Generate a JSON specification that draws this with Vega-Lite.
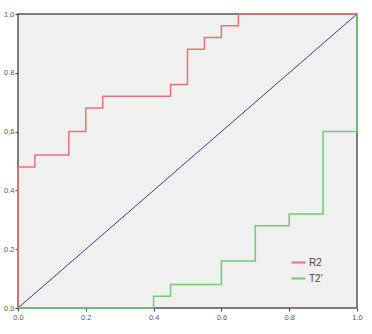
{
  "$schema": "https://vega.github.io/schema/vega-lite/v6.json",
  "width": 339,
  "height": 294,
  "autosize": {"type": "none"},
  "padding": {"left": 18, "top": 14, "right": 15, "bottom": 26},
  "background": "white",
  "config": {
    "view": {"fill": "#f0f0f0", "stroke": "#555555", "strokeWidth": 1.5},
    "font": "Liberation Sans"
  },
  "datasets": {
    "roc": [
      {"series": "R2", "i": 0, "fpr": 0, "tpr": 0},
      {"series": "R2", "i": 1, "fpr": 0, "tpr": 0.48},
      {"series": "R2", "i": 2, "fpr": 0.05, "tpr": 0.48},
      {"series": "R2", "i": 3, "fpr": 0.05, "tpr": 0.52},
      {"series": "R2", "i": 4, "fpr": 0.15, "tpr": 0.52},
      {"series": "R2", "i": 5, "fpr": 0.15, "tpr": 0.60},
      {"series": "R2", "i": 6, "fpr": 0.20, "tpr": 0.60},
      {"series": "R2", "i": 7, "fpr": 0.20, "tpr": 0.68},
      {"series": "R2", "i": 8, "fpr": 0.25, "tpr": 0.68},
      {"series": "R2", "i": 9, "fpr": 0.25, "tpr": 0.72},
      {"series": "R2", "i": 10, "fpr": 0.45, "tpr": 0.72},
      {"series": "R2", "i": 11, "fpr": 0.45, "tpr": 0.76},
      {"series": "R2", "i": 12, "fpr": 0.50, "tpr": 0.76},
      {"series": "R2", "i": 13, "fpr": 0.50, "tpr": 0.88},
      {"series": "R2", "i": 14, "fpr": 0.55, "tpr": 0.88},
      {"series": "R2", "i": 15, "fpr": 0.55, "tpr": 0.92},
      {"series": "R2", "i": 16, "fpr": 0.60, "tpr": 0.92},
      {"series": "R2", "i": 17, "fpr": 0.60, "tpr": 0.96},
      {"series": "R2", "i": 18, "fpr": 0.65, "tpr": 0.96},
      {"series": "R2", "i": 19, "fpr": 0.65, "tpr": 1.0},
      {"series": "R2", "i": 20, "fpr": 1.0, "tpr": 1.0},
      {"series": "T2'", "i": 0, "fpr": 0, "tpr": 0},
      {"series": "T2'", "i": 1, "fpr": 0.40, "tpr": 0},
      {"series": "T2'", "i": 2, "fpr": 0.40, "tpr": 0.04},
      {"series": "T2'", "i": 3, "fpr": 0.45, "tpr": 0.04},
      {"series": "T2'", "i": 4, "fpr": 0.45, "tpr": 0.08},
      {"series": "T2'", "i": 5, "fpr": 0.60, "tpr": 0.08},
      {"series": "T2'", "i": 6, "fpr": 0.60, "tpr": 0.16},
      {"series": "T2'", "i": 7, "fpr": 0.70, "tpr": 0.16},
      {"series": "T2'", "i": 8, "fpr": 0.70, "tpr": 0.28},
      {"series": "T2'", "i": 9, "fpr": 0.80, "tpr": 0.28},
      {"series": "T2'", "i": 10, "fpr": 0.80, "tpr": 0.32},
      {"series": "T2'", "i": 11, "fpr": 0.90, "tpr": 0.32},
      {"series": "T2'", "i": 12, "fpr": 0.90, "tpr": 0.60},
      {"series": "T2'", "i": 13, "fpr": 1.0, "tpr": 0.60},
      {"series": "T2'", "i": 14, "fpr": 1.0, "tpr": 1.0}
    ],
    "diag": [
      {"fpr": 0, "tpr": 0},
      {"fpr": 1, "tpr": 1}
    ]
  },
  "layer": [
    {
      "data": {"name": "diag"},
      "mark": {"type": "line", "color": "#3a3a8a", "strokeWidth": 1, "clip": true},
      "encoding": {
        "x": {"field": "fpr", "type": "quantitative"},
        "y": {"field": "tpr", "type": "quantitative"}
      }
    },
    {
      "data": {"name": "roc"},
      "mark": {"type": "line", "strokeWidth": 1.5, "clip": false},
      "encoding": {
        "x": {
          "field": "fpr", "type": "quantitative",
          "scale": {"domain": [0, 1], "nice": false, "zero": false},
          "axis": {
            "title": null, "values": [0, 0.2, 0.4, 0.6, 0.8, 1.0], "format": ".1f",
            "grid": false, "domain": false, "tickColor": "#444", "tickSize": 3,
            "labelFontSize": 7.5, "labelColor": "#555", "labelPadding": 2,
            "labelFlush": false
          }
        },
        "y": {
          "field": "tpr", "type": "quantitative",
          "scale": {"domain": [0, 1], "nice": false, "zero": false},
          "axis": {
            "title": null, "values": [0, 0.2, 0.4, 0.6, 0.8, 1.0], "format": ".1f",
            "grid": false, "domain": false, "tickColor": "#444", "tickSize": 3,
            "labelFontSize": 7.5, "labelColor": "#555", "labelPadding": 1,
            "labelFlush": false
          }
        },
        "order": {"field": "i", "type": "quantitative"},
        "color": {
          "field": "series", "type": "nominal",
          "scale": {"domain": ["R2", "T2'"], "range": ["#f07070", "#6cd06c"]},
          "legend": {
            "title": null, "orient": "none", "legendX": 272, "legendY": 240,
            "symbolType": "stroke", "symbolSize": 200, "symbolStrokeWidth": 2,
            "labelFontSize": 10, "labelColor": "#444", "rowPadding": 2,
            "labelOffset": 2
          }
        }
      }
    }
  ]
}
